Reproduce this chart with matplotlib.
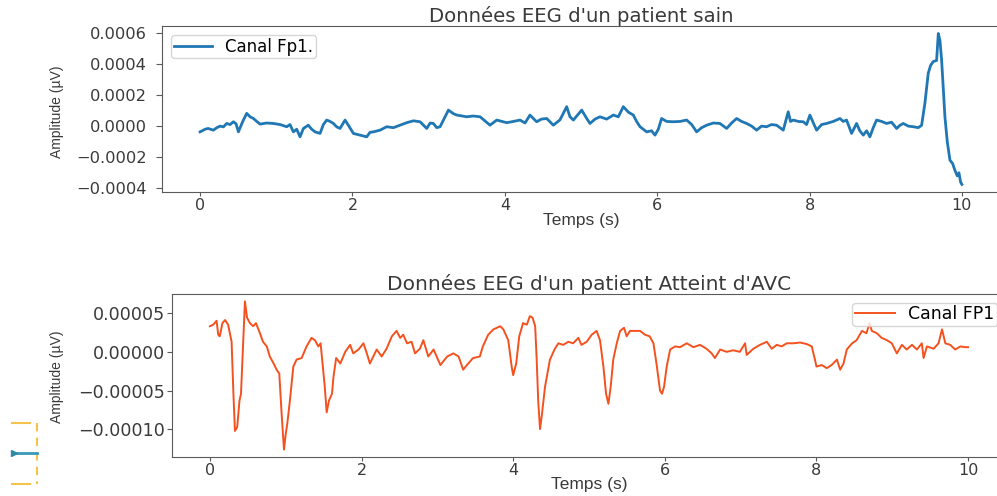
import matplotlib
matplotlib.use("Agg")
import matplotlib.pyplot as plt
import numpy as np
from matplotlib.lines import Line2D

# Healthy patient, channel Fp1 (time in s, amplitude in 1e-4 uV)
healthy_t = [
    0.0, 0.066, 0.105, 0.175, 0.22, 0.262, 0.306, 0.35, 0.394, 0.437,
    0.472, 0.503, 0.56, 0.612, 0.656, 0.7, 0.744, 0.787, 0.875, 0.962,
    1.05, 1.137, 1.18, 1.225, 1.268, 1.312, 1.356, 1.42, 1.465, 1.509,
    1.575, 1.618, 1.662, 1.706, 1.75, 1.794, 1.837, 1.903, 1.947, 2.012,
    2.1, 2.187, 2.23, 2.275, 2.362, 2.45, 2.537, 2.625, 2.712, 2.8,
    2.887, 2.975, 3.02, 3.062, 3.106, 3.15, 3.26, 3.325, 3.37, 3.5,
    3.587, 3.675, 3.806, 3.894, 4.025, 4.112, 4.2, 4.265, 4.33, 4.418,
    4.48, 4.55, 4.637, 4.724, 4.812, 4.855, 4.9, 5.009, 5.074, 5.118,
    5.184, 5.249, 5.337, 5.424, 5.49, 5.556, 5.621, 5.687, 5.73, 5.775,
    5.818, 5.862, 5.927, 5.971, 6.015, 6.058, 6.124, 6.212, 6.3, 6.387,
    6.453, 6.518, 6.584, 6.65, 6.737, 6.824, 6.912, 6.977, 7.043, 7.108,
    7.174, 7.24, 7.305, 7.37, 7.436, 7.5, 7.567, 7.655, 7.72, 7.75,
    7.786, 7.852, 7.917, 7.961, 8.005, 8.05, 8.093, 8.158, 8.224, 8.311,
    8.399, 8.442, 8.486, 8.552, 8.617, 8.66, 8.705, 8.749, 8.792, 8.836,
    8.88, 8.946, 9.011, 9.077, 9.143, 9.186, 9.23, 9.296, 9.361, 9.427,
    9.471, 9.515, 9.558, 9.589, 9.624, 9.668, 9.69, 9.712, 9.734, 9.777,
    9.808, 9.843, 9.878, 9.908, 9.939, 9.961, 9.983, 10.0,
]
healthy_amp = [
    -0.37, -0.2, -0.15, -0.26, -0.1, 0.0, -0.05, 0.17, 0.1, 0.28,
    0.15, -0.37, 0.3, 0.82, 0.6, 0.49, 0.3, 0.13, 0.2, 0.17,
    0.1, -0.04, 0.1, -0.37, -0.2, -0.69, -0.15, 0.06, -0.2, -0.37,
    -0.47, 0.1, 0.39, 0.3, 0.17, -0.05, -0.15, 0.39, 0.05, -0.47,
    -0.58, -0.69, -0.4, -0.37, -0.26, -0.04, -0.1, 0.06, 0.22, 0.34,
    0.28, -0.15, 0.2, 0.17, -0.1, -0.04, 1.03, 0.8, 0.71, 0.6,
    0.65, 0.6, 0.06, 0.39, 0.22, 0.3, 0.39, 0.2, 0.71, 0.28,
    0.45, 0.49, 0.06, 0.4, 1.25, 0.6, 0.39, 1.03, 0.5, 0.17,
    0.45, 0.6, 0.45, 0.71, 0.6, 1.25, 0.9, 0.71, 0.3, -0.04,
    -0.2, -0.37, -0.3, -0.58, -0.2, 0.49, 0.3, 0.28, 0.3, 0.39,
    0.1, -0.37, -0.1, 0.06, 0.2, 0.17, -0.15, 0.2, 0.49, 0.3,
    0.17, 0.0, -0.26, 0.0, -0.04, 0.1, 0.06, -0.26, 0.92, 0.3,
    0.39, 0.3, 0.28, 0.1, 0.71, 0.2, -0.26, 0.1, 0.17, 0.3,
    0.49, 0.3, 0.39, -0.47, 0.17, -0.3, -0.58, -0.3, -0.69, -0.1,
    0.39, 0.3, 0.17, 0.25, -0.15, 0.05, 0.17, 0.0, -0.04, -0.1,
    0.05, 1.5, 3.4, 3.9, 4.15, 4.22, 5.95, 5.5, 4.22, 0.6,
    -1.0, -2.19, -2.4, -2.84, -3.2, -3.0, -3.6, -3.75,
]

# Stroke patient, channel FP1 (time in s, amplitude in 1e-5 uV)
stroke_t = [
    0.0, 0.044, 0.088, 0.11, 0.13, 0.165, 0.2, 0.24, 0.286, 0.31,
    0.33, 0.36, 0.39, 0.41, 0.44, 0.462, 0.49, 0.528, 0.57, 0.607,
    0.66, 0.7, 0.75, 0.79, 0.84, 0.88, 0.915, 0.946, 0.977, 1.0,
    1.02, 1.055, 1.1, 1.143, 1.21, 1.275, 1.34, 1.385, 1.43, 1.46,
    1.486, 1.515, 1.54, 1.57, 1.61, 1.63, 1.665, 1.72, 1.785, 1.85,
    1.89, 1.96, 2.025, 2.07, 2.11, 2.155, 2.2, 2.265, 2.33, 2.4,
    2.462, 2.51, 2.55, 2.6, 2.66, 2.705, 2.77, 2.815, 2.88, 2.95,
    3.04, 3.13, 3.21, 3.28, 3.34, 3.39, 3.47, 3.56, 3.6, 3.67,
    3.74, 3.83, 3.87, 3.935, 3.98, 4.0, 4.04, 4.08, 4.13, 4.18,
    4.22, 4.256, 4.29, 4.31, 4.33, 4.354, 4.38, 4.42, 4.485, 4.55,
    4.596, 4.66, 4.727, 4.79, 4.86, 4.9, 4.97, 5.035, 5.1, 5.145,
    5.19, 5.225, 5.256, 5.286, 5.32, 5.366, 5.41, 5.462, 5.497, 5.54,
    5.607, 5.673, 5.74, 5.8, 5.85, 5.89, 5.937, 5.963, 5.99, 6.025,
    6.07, 6.135, 6.2, 6.29, 6.376, 6.464, 6.55, 6.618, 6.66, 6.73,
    6.816, 6.9, 6.99, 7.058, 7.08, 7.168, 7.256, 7.345, 7.41, 7.477,
    7.54, 7.608, 7.696, 7.784, 7.872, 7.938, 7.98, 8.0, 8.07, 8.136,
    8.2, 8.27, 8.313, 8.357, 8.4, 8.47, 8.53, 8.6, 8.66, 8.7,
    8.73, 8.796, 8.86, 8.93, 8.994, 9.06, 9.127, 9.19, 9.26, 9.325,
    9.39, 9.413, 9.457, 9.545, 9.61, 9.656, 9.7, 9.764, 9.83, 9.9,
    9.96, 10.0,
]
stroke_amp = [
    3.3, 3.5, 4.0, 2.2, 2.0, 3.7, 4.1, 3.5, 1.3, -5.4,
    -10.2, -9.7, -6.3, -5.4, 1.3, 6.5, 4.4, 3.7, 3.3, 3.7,
    2.4, 1.3, 0.7, -0.6, -1.5, -2.3, -2.8, -8.0, -12.6, -10.6,
    -9.3, -6.3, -1.9, -1.0, -0.8, 0.7, 1.8, 1.5, 0.7, 1.1,
    -1.5, -4.5, -7.8, -6.3, -5.4, -3.2, -0.8, -1.5, 0.0, 0.9,
    -0.2, 0.3, 1.1, -0.2, -1.5, -0.6, 0.3, -0.6, 0.4, 2.0,
    2.7, 1.8, 2.2, 1.1, 1.3, -0.2, 0.4, 1.5, -0.6, 0.3,
    -1.7, -0.6, -0.2, -0.6, -2.3, -1.7, -0.8, -0.6, 0.7, 2.2,
    2.9, 3.3, 2.9, 1.5, -1.9, -3.0, -1.5, 2.0, 3.7, 3.5,
    4.6, 4.4, 3.3, -1.0, -6.3, -9.95, -8.0, -4.5, -1.0, 0.4,
    1.1, 0.9, 1.3, 1.1, 1.8, 0.9, 1.3, 2.2, 2.7, 1.5,
    -1.9, -5.4, -6.7, -4.5, -1.0, 1.1, 2.7, 3.1, 2.0, 2.7,
    2.7, 2.7, 2.2, 2.0, 1.1, -1.5, -5.0, -5.4, -4.5, -1.9,
    0.3, 0.7, 0.6, 1.1, 0.6, 0.9, 0.4, -0.2, -0.8, 0.3,
    0.0, 0.2, 0.0, 1.1, -0.4, 0.4, 0.9, 1.3, 0.4, 0.9,
    0.7, 1.1, 1.1, 1.2, 1.0, 0.7, -1.0, -1.9, -1.7, -2.1,
    -1.7, -1.0, -2.3, -1.5, 0.3, 1.1, 1.5, 2.7, 2.4, 3.7,
    2.7, 2.4, 1.8, 1.5, 1.1, -0.2, 0.9, 0.3, 0.9, 0.3,
    1.1, -0.8, 0.7, 0.4, 1.1, 2.9, 1.1, 0.9, 0.3, 0.7,
    0.6, 0.6,
]

healthy_y = np.array(healthy_amp) * 1e-4
stroke_y = np.array(stroke_amp) * 1e-5

text_col = "#3a3a3a"
frame_col = "#5a5a5a"
plt.rcParams["axes.edgecolor"] = frame_col
plt.rcParams["xtick.color"] = frame_col
plt.rcParams["ytick.color"] = frame_col
plt.rcParams["xtick.labelcolor"] = text_col
plt.rcParams["ytick.labelcolor"] = text_col

W, H = 997, 496
fig = plt.figure(figsize=(W / 100, H / 100), dpi=100)
ax1 = fig.add_axes([162 / W, 1 - 192 / H, 838 / W, 166 / H])
ax2 = fig.add_axes([172 / W, 1 - 457 / H, 834 / W, 163 / H])

label_font = ["Liberation Sans", "DejaVu Sans"]

# --- healthy patient
ax1.plot(healthy_t, healthy_y, color="#1f77b4", lw=2.0, label="Canal Fp1.")
ax1.set_title("Données EEG d'un patient sain", fontsize=14.2, color=text_col, pad=3)
ax1.set_xlabel("Temps (s)", family=label_font, fontsize=12.5, color=text_col)
ax1.set_ylabel("Amplitude (µV)", family=label_font, fontsize=10, color=text_col)
ax1.xaxis.set_label_coords(0.5, -(220 - 192) / 166)
ax1.xaxis.label.set_verticalalignment("center")
ax1.yaxis.set_label_coords((57 - 162) / 838, (192 - 112) / 166)
ax1.yaxis.label.set_verticalalignment("center")
ax1.set_xticks([0, 2, 4, 6, 8, 10])
ax1.set_yticks([-0.0004, -0.0002, 0.0, 0.0002, 0.0004, 0.0006])
ax1.tick_params(axis="x", length=3, pad=1.5, labelsize=11.5)
ax1.tick_params(axis="y", length=4, pad=7, labelsize=11.7)
ax1.legend(loc="upper left", fontsize=12, borderpad=0.15, handlelength=2.3,
           borderaxespad=0.55)

# --- stroke patient
ax2.plot(stroke_t, stroke_y, color="#f4511e", lw=1.4, label="Canal FP1")
ax2.set_title("Données EEG d'un patient Atteint d'AVC", fontsize=14.5, color=text_col, pad=2)
ax2.set_xlabel("Temps (s)", family=label_font, fontsize=12.5, color=text_col)
ax2.set_ylabel("Amplitude (µV)", family=label_font, fontsize=10, color=text_col)
ax2.xaxis.set_label_coords(0.5, -(485 - 457) / 163)
ax2.xaxis.label.set_verticalalignment("center")
ax2.yaxis.set_label_coords((57 - 172) / 834, (457 - 377) / 163)
ax2.yaxis.label.set_verticalalignment("center")
ax2.set_xticks([0, 2, 4, 6, 8, 10])
ax2.set_yticks([-0.0001, -0.00005, 0.0, 0.00005])
ax2.tick_params(axis="x", length=3, pad=1.5, labelsize=11.5)
ax2.tick_params(axis="y", length=3.5, pad=1.5, labelsize=12.6)
ax2.legend(loc="upper right", fontsize=12.5, borderpad=0.15, handlelength=2.3,
           borderaxespad=0.5)

# little selection handle left over in the bottom-left corner of the screenshot
handle = "#f5c24c"
fig.add_artist(Line2D([12 / W, 30 / W], [1 - 423 / H, 1 - 423 / H], color=handle, lw=1.5))
fig.add_artist(Line2D([12 / W, 30 / W], [1 - 484 / H, 1 - 484 / H], color=handle, lw=1.5))
fig.add_artist(Line2D([37 / W, 37 / W], [1 - 423 / H, 1 - 484 / H], color=handle, lw=1.5,
                      ls=(0, (4, 3))))
fig.add_artist(Line2D([12 / W, 37 / W], [1 - 453 / H, 1 - 453 / H], color="#3a98b4", lw=2))
fig.add_artist(Line2D([14 / W], [1 - 453 / H], color="#2f8aa6", marker=">", ms=4, lw=0))

fig.savefig("out.png", dpi=100)
